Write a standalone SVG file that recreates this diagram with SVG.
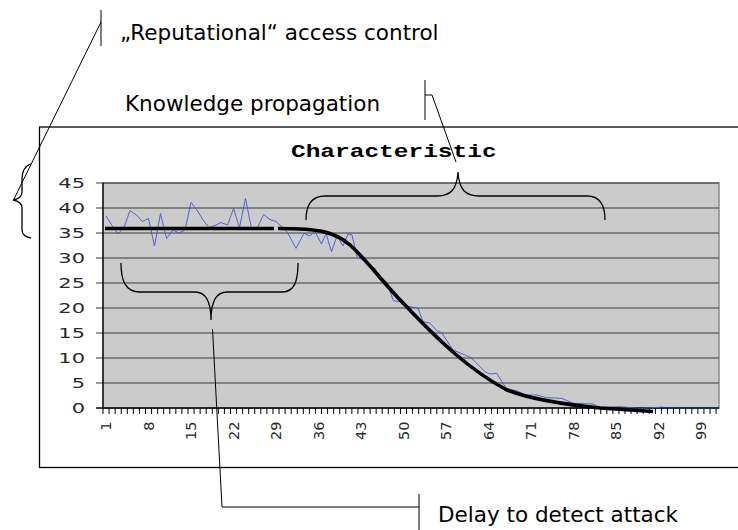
<svg xmlns="http://www.w3.org/2000/svg" width="738" height="530" viewBox="0 0 738 530">
<style>
.cl{font-family:"DejaVu Sans",Verdana,sans-serif;font-size:21.5px;fill:#000}
.ax{font-family:"DejaVu Sans",Verdana,sans-serif;font-size:14px;fill:#2a2a2a}
.ttl{font-family:"Liberation Mono","Courier New",monospace;font-weight:bold;font-size:17.5px;fill:#000}
.ln{fill:none;stroke:#000;stroke-width:1}
.br{fill:none;stroke:#000;stroke-width:1.3}
.grid{stroke:#3a3a3a;stroke-width:1.2}
</style>
<rect width="738" height="530" fill="#fff"/>

<g id="chart">
  <rect x="39.5" y="127" width="720" height="340.5" fill="#fff" stroke="#000" stroke-width="1.3"/>
  <text class="ttl" transform="translate(291,157) scale(1.4,1)">Characteristic</text>
  <rect x="103" y="183" width="616" height="225" fill="#cbcbcb" stroke="#8a8a8a" stroke-width="1.5"/>
  <g class="grid">
    <line x1="96" y1="183" x2="719" y2="183"/>
    <line x1="96" y1="208" x2="719" y2="208"/>
    <line x1="96" y1="233" x2="719" y2="233"/>
    <line x1="96" y1="258" x2="719" y2="258"/>
    <line x1="96" y1="283" x2="719" y2="283"/>
    <line x1="96" y1="308" x2="719" y2="308"/>
    <line x1="96" y1="333" x2="719" y2="333"/>
    <line x1="96" y1="358" x2="719" y2="358"/>
    <line x1="96" y1="383" x2="719" y2="383"/>
  </g>
  <line x1="103" y1="183" x2="103" y2="408.5" stroke="#000" stroke-width="1.3"/>
  <line x1="96" y1="408" x2="719" y2="408" stroke="#000" stroke-width="1.3"/>
  <line x1="102.5" y1="411" x2="719" y2="411" stroke="#000" stroke-width="6" stroke-dasharray="1 5.07"/>
  <g transform="translate(85,0) scale(1.5,1)" class="ax" text-anchor="end">
    <text x="0" y="188">45</text>
    <text x="0" y="213">40</text>
    <text x="0" y="238">35</text>
    <text x="0" y="263">30</text>
    <text x="0" y="288">25</text>
    <text x="0" y="313">20</text>
    <text x="0" y="338">15</text>
    <text x="0" y="363">10</text>
    <text x="0" y="388">5</text>
    <text x="0" y="413">0</text>
  </g>
  <g class="ax" text-anchor="end" style="font-size:14.5px">
    <text transform="translate(111.3,421.5) rotate(-90)">1</text>
    <text transform="translate(153.8,421.5) rotate(-90)">8</text>
    <text transform="translate(196.3,421.5) rotate(-90)">15</text>
    <text transform="translate(238.8,421.5) rotate(-90)">22</text>
    <text transform="translate(281.3,421.5) rotate(-90)">29</text>
    <text transform="translate(323.8,421.5) rotate(-90)">36</text>
    <text transform="translate(366.2,421.5) rotate(-90)">43</text>
    <text transform="translate(408.7,421.5) rotate(-90)">50</text>
    <text transform="translate(451.2,421.5) rotate(-90)">57</text>
    <text transform="translate(493.7,421.5) rotate(-90)">64</text>
    <text transform="translate(536.2,421.5) rotate(-90)">71</text>
    <text transform="translate(578.7,421.5) rotate(-90)">78</text>
    <text transform="translate(621.2,421.5) rotate(-90)">85</text>
    <text transform="translate(663.7,421.5) rotate(-90)">92</text>
    <text transform="translate(706.2,421.5) rotate(-90)">99</text>
  </g>
  <polyline fill="none" stroke="#4458c4" stroke-width="0.9" stroke-linejoin="round" points="106,216 112,225.5 118,234 124,227.5 130,210.5 136.5,215 142.5,221.5 148.5,218.5 154.5,246 160.5,213.5 166.5,238.5 173,230 179,233 185,230 191,202.5 197,210 203,220 209,227.5 215,225.5 221,222.5 227.5,225 233.5,208.5 239.5,227.5 245.5,198.5 251.5,228.5 257.5,228 263.5,214.5 270,219.5 276,221.5 287,231.7 296,248.3 304,233.3 309.5,236 315,231.7 321.5,244 326,233.3 331.5,251.7 337,236 343,246 348,234 352,235 357,256.7 363,260 370,266.7 375,268.3 380,280 386.7,281.7 393.3,300.7 400,301.7 406.7,306 418,308 423,321.7 430,323 436.7,330.7 441.7,332.7 453,350 466.7,355.7 471.7,358.3 485,371.7 490,374 496.7,373.3 506.7,389 516.7,390.7 525,395 536.7,395 546.7,397.7 561.7,398.3 573.3,403.3 593,404 600,407.3 620,406.7 640,408.3 660,407.3"/>
  <polyline fill="none" stroke="#1f2f9a" stroke-width="1.2" points="660,407.3 680,408 719,408"/>
  <path d="M105,228.5 L274,228.5" fill="none" stroke="#000" stroke-width="3.6"/>
  <path d="M278,228.5 C320,228.5 335,232 350,245 C365,258 385,285 405,305 C440,342 470,370 505,389 C530,400 570,405 600,408 L653,411.5" fill="none" stroke="#000" stroke-width="3.6"/>
</g>

<g id="reputational">
  <line class="ln" x1="101" y1="10" x2="101" y2="46"/>
  <text class="cl" x="120" y="40">„Reputational“ access control</text>
</g>
<g id="knowledge">
  <line class="ln" x1="425" y1="80" x2="425" y2="120"/>
  <text class="cl" x="125" y="111">Knowledge propagation</text>
</g>
<g id="delay">
  <line class="ln" x1="419" y1="494" x2="419" y2="530"/>
  <text class="cl" x="438" y="521.5">Delay to detect attack</text>
</g>

<g id="connectors">
  <line class="ln" x1="101" y1="22" x2="14" y2="199"/>
  <path class="br" d="M31,164 C24,166 22,172 22,180 L22,192 C22,197 18,199 13,200 C18,201 22,203 22,208 L22,230 C22,235 26,237 31,238"/>
  <polyline class="ln" points="425,95 432,95 456,162"/>
  <path class="br" d="M306,220 C306,205 312,196 325,196 L437,196 C450,196 457,190 458,172 C459,190 466,196 479,196 L587,196 C600,196 605,205 605,220"/>
  <path class="br" d="M121,263 C121,280 125,292 140,292 L195,292 C205,292 211,300 211,320 C211,300 217,292 227,292 L282,292 C295,292 298,280 298,263"/>
  <polyline class="ln" points="212.5,329 222,507 419,507"/>
</g>
</svg>
